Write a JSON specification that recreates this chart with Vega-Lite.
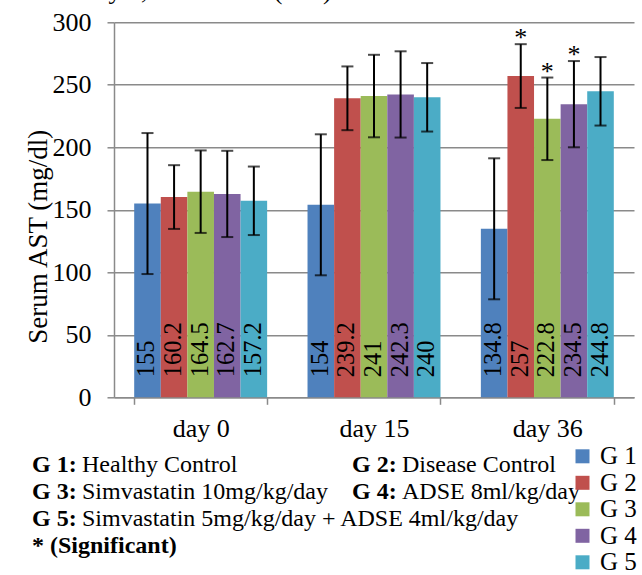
{
  "$schema": "https://vega.github.io/schema/vega-lite/v6.json",
  "autosize": "none",
  "width": 520,
  "height": 375,
  "padding": {"left": 114, "top": 22.3, "right": 8, "bottom": 177.7},
  "title": {"text": "day 0, 15 and 36\" (n=6)", "anchor": "start", "frame": "group", "dx": -30, "dy": 8, "fontSize": 26, "font": "Liberation Serif", "fontWeight": "normal", "baseline": "alphabetic", "offset": -8, "color": "#000"},
  "datasets": {
    "ast": [
      {"day": "day 0", "group": "G 1", "value": 155, "low": 98.6, "high": 211.4, "sig": ""},
      {"day": "day 0", "group": "G 2", "value": 160.2, "low": 134.7, "high": 185.7, "sig": ""},
      {"day": "day 0", "group": "G 3", "value": 164.5, "low": 131.5, "high": 197.5, "sig": ""},
      {"day": "day 0", "group": "G 4", "value": 162.7, "low": 128.2, "high": 197.2, "sig": ""},
      {"day": "day 0", "group": "G 5", "value": 157.2, "low": 129.8, "high": 184.6, "sig": ""},
      {"day": "day 15", "group": "G 1", "value": 154, "low": 97.6, "high": 210.4, "sig": ""},
      {"day": "day 15", "group": "G 2", "value": 239.2, "low": 213.7, "high": 264.7, "sig": ""},
      {"day": "day 15", "group": "G 3", "value": 241, "low": 208, "high": 274, "sig": ""},
      {"day": "day 15", "group": "G 4", "value": 242.3, "low": 207.8, "high": 276.8, "sig": ""},
      {"day": "day 15", "group": "G 5", "value": 240, "low": 212.6, "high": 267.4, "sig": ""},
      {"day": "day 36", "group": "G 1", "value": 134.8, "low": 78.4, "high": 191.2, "sig": ""},
      {"day": "day 36", "group": "G 2", "value": 257, "low": 231.5, "high": 282.5, "sig": "*"},
      {"day": "day 36", "group": "G 3", "value": 222.8, "low": 189.8, "high": 255.8, "sig": "*"},
      {"day": "day 36", "group": "G 4", "value": 234.5, "low": 200, "high": 269, "sig": "*"},
      {"day": "day 36", "group": "G 5", "value": 244.8, "low": 217.4, "high": 272.2, "sig": ""}
    ],
    "notes": [
      {"line": 1, "col": 1, "key": "G 1:", "desc": "Healthy Control"},
      {"line": 1, "col": 2, "key": "G 2:", "desc": "Disease Control"},
      {"line": 2, "col": 1, "key": "G 3:", "desc": "Simvastatin 10mg/kg/day"},
      {"line": 2, "col": 2, "key": "G 4:", "desc": "ADSE 8ml/kg/day"},
      {"line": 3, "col": 1, "key": "G 5:", "desc": "Simvastatin 5mg/kg/day + ADSE 4ml/kg/day"},
      {"line": 4, "col": 1, "key": "* (Significant)", "desc": ""}
    ]
  },
  "layer": [
    {
      "data": {"name": "ast"},
      "encoding": {
        "x": {
          "field": "day", "type": "nominal", "sort": ["day 0", "day 15", "day 36"],
          "scale": {"paddingInner": 0.233, "paddingOuter": 0.1165},
          "axis": {"title": null, "labelAngle": 0, "tickBand": "extent", "tickSize": 7, "labelPadding": 11.5, "labelFont": "Liberation Serif", "labelFontSize": 26, "labelColor": "#000", "labelBaseline": "top", "domainColor": "#8a8a8a", "domainWidth": 1.5, "tickColor": "#8a8a8a", "tickWidth": 1.5, "grid": false}
        },
        "xOffset": {"field": "group", "type": "nominal", "sort": ["G 1", "G 2", "G 3", "G 4", "G 5"], "scale": {"paddingInner": 0, "paddingOuter": 0}}
      },
      "layer": [
        {
          "mark": {"type": "bar"},
          "encoding": {
            "y": {
              "field": "value", "type": "quantitative",
              "scale": {"domain": [0, 300], "nice": false},
              "axis": {"title": "Serum AST (mg/dl)", "values": [0, 50, 100, 150, 200, 250, 300], "grid": true, "gridColor": "#8a8a8a", "gridWidth": 1.5, "domainColor": "#8a8a8a", "domainWidth": 1.5, "tickColor": "#8a8a8a", "tickWidth": 1.5, "tickSize": 7, "labelFont": "Liberation Serif", "labelFontSize": 26, "labelColor": "#000", "labelPadding": 16, "titleFont": "Liberation Serif", "titleFontSize": 27, "titleFontWeight": "normal", "titleColor": "#000", "titleX": -76, "titleY": 214, "titleBaseline": "middle"}
            },
            "color": {
              "field": "group", "type": "nominal",
              "scale": {"domain": ["G 1", "G 2", "G 3", "G 4", "G 5"], "range": ["#4F81BD", "#C0504D", "#9BBB59", "#8064A2", "#4BACC6"]},
              "legend": {"orient": "none", "legendX": 456, "legendY": 421.5, "title": null, "symbolType": "square", "symbolSize": 196, "symbolStrokeWidth": 0, "symbolOpacity": 1, "labelFont": "Liberation Serif", "labelFontSize": 25, "labelColor": "#000", "rowPadding": 0.5, "labelOffset": 5, "padding": 0}
            }
          }
        },
        {
          "mark": {"type": "rule", "color": "#000", "strokeWidth": 2},
          "encoding": {"y": {"field": "low", "type": "quantitative"}, "y2": {"field": "high"}}
        },
        {
          "mark": {"type": "tick", "color": "#000", "size": 12, "thickness": 2},
          "encoding": {"y": {"field": "low", "type": "quantitative"}}
        },
        {
          "mark": {"type": "tick", "color": "#000", "size": 12, "thickness": 2},
          "encoding": {"y": {"field": "high", "type": "quantitative"}}
        },
        {
          "mark": {"type": "text", "angle": 270, "align": "left", "baseline": "middle", "dx": 20, "font": "Liberation Serif", "fontSize": 24.5, "color": "#000"},
          "encoding": {"y": {"datum": 0}, "text": {"field": "value", "type": "quantitative"}}
        },
        {
          "transform": [{"filter": "datum.sig != ''"}],
          "mark": {"type": "text", "baseline": "alphabetic", "align": "center", "dy": 2, "font": "Liberation Serif", "fontSize": 26, "color": "#000"},
          "encoding": {"y": {"field": "high", "type": "quantitative"}, "text": {"field": "sig"}}
        }
      ]
    },
    {
      "data": {"name": "notes"},
      "encoding": {
        "x": {"field": "col", "type": "quantitative", "scale": {"domain": [1, 2], "range": [-82, 238]}, "axis": null},
        "y": {"field": "line", "type": "quantitative", "scale": {"domain": [1, 4], "range": [443, 524]}, "axis": null}
      },
      "layer": [
        {
          "mark": {"type": "text", "align": "left", "baseline": "middle", "font": "Liberation Serif", "fontSize": 24, "fontWeight": "bold", "color": "#000"},
          "encoding": {"text": {"field": "key"}}
        },
        {
          "mark": {"type": "text", "align": "left", "baseline": "middle", "dx": 50, "font": "Liberation Serif", "fontSize": 24, "color": "#000"},
          "encoding": {"text": {"field": "desc"}}
        }
      ]
    }
  ],
  "resolve": {"scale": {"x": "independent", "y": "independent"}},
  "config": {"view": {"stroke": null}, "background": "#ffffff"}
}
